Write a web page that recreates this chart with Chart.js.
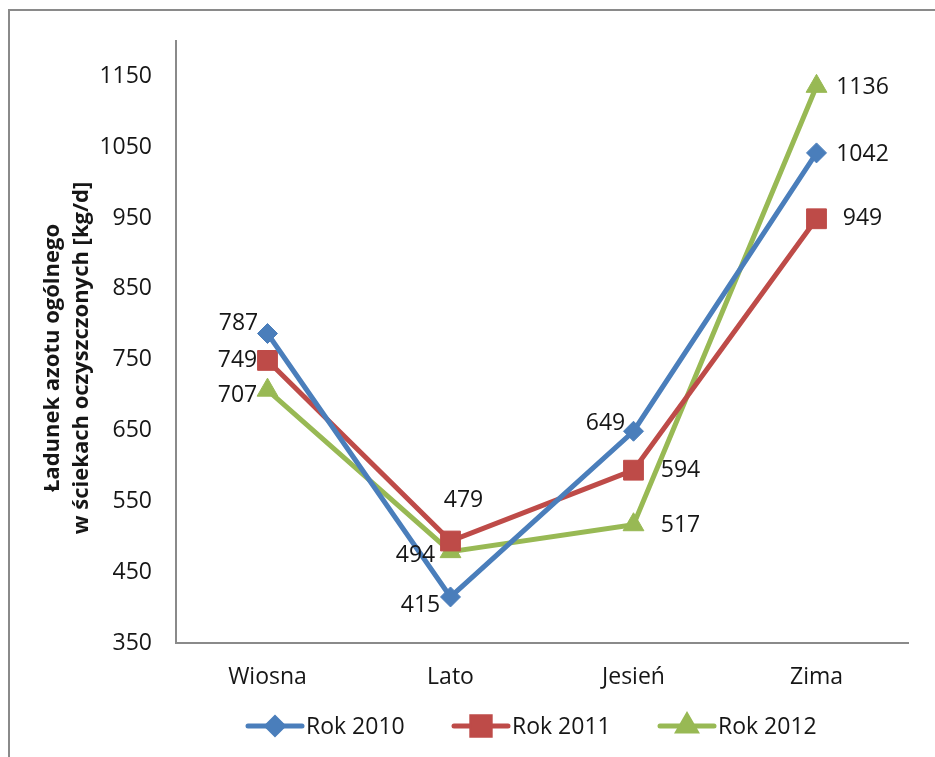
<!DOCTYPE html>
<html lang="pl">
<head>
<meta charset="utf-8">
<title>Ładunek azotu ogólnego</title>
<script src="https://cdn.jsdelivr.net/npm/chart.js@4/dist/chart.umd.min.js"></script>
<style>
  html, body { margin: 0; padding: 0; background: #fff; }
  #wrap { width: 935px; height: 757px; position: relative; }
</style>
</head>
<body>
<div id="wrap"><canvas id="c" width="935" height="757"></canvas></div>
<script>
// Seasons on the category axis
const seasons = ['Wiosna', 'Lato', 'Jesień', 'Zima'];

// Total nitrogen load in treated wastewater [kg/d]
const rok2010 = [787, 415, 649, 1042];
const rok2011 = [749, 494, 594, 949];
const rok2012 = [707, 479, 517, 1136];

// Value axis
const yMin = 350;
const yMax = 1200;
const yTickValues = [350, 450, 550, 650, 750, 850, 950, 1050, 1150];

const seriesNames = ['Rok 2010', 'Rok 2011', 'Rok 2012'];
const titleLines = ['Ładunek azotu ogólnego', 'w ściekach oczyszczonych [kg/d]'];

const FONT = '"Open Sans", "Liberation Sans", sans-serif';
const FONT_SIZE = 23;
const TEXT = '#161616';
const AXIS = '#8a8a8a';
const COLORS = ['#4A7EBB', '#BE4B48', '#98B954'];
const MARKERS = ['rectRot', 'rect', 'triangle'];
const RADII = [10, 14, 12];
const LEGEND_RADII = [8, 13, 10];

// Where each value label sits relative to its point (dx, dy)
const labelOffsets = [
  [[-29, -10], [-30, 8], [-28, -8], [46, 2]],
  [[-30, 0], [-35, 14], [47, 0], [46, 0]],
  [[-30, 5], [13, -51], [47, 1], [46, 1]]
];

// Outer frame (left and top edges)
const framePlugin = {
  id: 'frame',
  beforeDraw(chart) {
    const ctx = chart.ctx;
    ctx.save();
    ctx.strokeStyle = AXIS;
    ctx.lineWidth = 2;
    ctx.beginPath();
    ctx.moveTo(9, chart.height);
    ctx.lineTo(9, 10);
    ctx.lineTo(chart.width, 10);
    ctx.stroke();
    ctx.restore();
  }
};

// Rotated two-line title of the value axis
const yTitlePlugin = {
  id: 'yTitle',
  afterDraw(chart) {
    const ctx = chart.ctx;
    ctx.save();
    ctx.fillStyle = TEXT;
    ctx.font = 'bold 22px ' + FONT;
    ctx.textAlign = 'center';
    ctx.textBaseline = 'middle';
    const xs = [53, 82];
    titleLines.forEach((line, i) => {
      ctx.save();
      ctx.translate(xs[i], 358);
      ctx.rotate(-Math.PI / 2);
      ctx.fillText(line, 0, 0);
      ctx.restore();
    });
    ctx.restore();
  }
};

// Value labels next to each point
const valueLabelPlugin = {
  id: 'valueLabels',
  afterDatasetsDraw(chart) {
    const ctx = chart.ctx;
    ctx.save();
    ctx.fillStyle = TEXT;
    ctx.font = FONT_SIZE + 'px ' + FONT;
    ctx.textAlign = 'center';
    ctx.textBaseline = 'middle';
    chart.data.datasets.forEach((ds, di) => {
      const meta = chart.getDatasetMeta(di);
      meta.data.forEach((pt, i) => {
        const off = labelOffsets[di][i];
        ctx.fillText(String(ds.data[i]), pt.x + off[0], pt.y + off[1]);
      });
    });
    ctx.restore();
  }
};

// Legend: line sample with marker, then the series name
const legendPlugin = {
  id: 'lineLegend',
  afterDraw(chart) {
    const ctx = chart.ctx;
    const starts = [248, 454, 660];
    const y = 726;
    ctx.save();
    chart.data.datasets.forEach((ds, i) => {
      const x0 = starts[i];
      ctx.strokeStyle = ds.borderColor;
      ctx.lineWidth = 5;
      ctx.lineCap = 'round';
      ctx.beginPath();
      ctx.moveTo(x0, y);
      ctx.lineTo(x0 + 54, y);
      ctx.stroke();
      Chart.helpers.drawPoint(ctx, {
        pointStyle: ds.pointStyle,
        radius: LEGEND_RADII[i],
        borderWidth: 1
      }, x0 + 27, y);
      ctx.fillStyle = ds.borderColor;
      ctx.fill();
      ctx.fillStyle = TEXT;
      ctx.font = FONT_SIZE + 'px ' + FONT;
      ctx.textAlign = 'left';
      ctx.textBaseline = 'middle';
      ctx.fillText(ds.label, x0 + 58, y + 1);
    });
    ctx.restore();
  }
};

const seriesData = [rok2010, rok2011, rok2012];

new Chart(document.getElementById('c'), {
  type: 'line',
  data: {
    labels: seasons,
    datasets: seriesData.map((values, i) => ({
      label: seriesNames[i],
      data: values,
      borderColor: COLORS[i],
      backgroundColor: COLORS[i],
      pointBackgroundColor: COLORS[i],
      pointBorderColor: COLORS[i],
      pointBorderWidth: 1,
      borderWidth: 5,
      pointStyle: MARKERS[i],
      pointRadius: RADII[i],
      pointHoverRadius: RADII[i],
      tension: 0,
      fill: false,
      clip: false
    }))
  },
  options: {
    responsive: false,
    animation: false,
    events: [],
    layout: { padding: { left: 0, top: 41, right: 27, bottom: 54 } },
    plugins: {
      legend: { display: false },
      tooltip: { enabled: false },
      title: { display: false }
    },
    scales: {
      x: {
        type: 'category',
        offset: true,
        grid: { display: false, drawTicks: false },
        border: { display: true, color: AXIS, width: 2 },
        ticks: {
          color: TEXT,
          font: { family: FONT, size: FONT_SIZE },
          padding: 21,
          maxRotation: 0
        },
        afterFit(scale) { scale.height = 60; }
      },
      y: {
        type: 'linear',
        min: yMin,
        max: yMax,
        grid: { display: false, drawTicks: false },
        border: { display: true, color: AXIS, width: 2 },
        ticks: {
          color: TEXT,
          font: { family: FONT, size: FONT_SIZE },
          padding: 24,
          callback: (v) => String(v)
        },
        afterBuildTicks(scale) {
          scale.ticks = yTickValues.map(v => ({ value: v }));
        },
        afterFit(scale) { scale.width = 176; }
      }
    }
  },
  plugins: [framePlugin, yTitlePlugin, valueLabelPlugin, legendPlugin]
});
</script>
</body>
</html>
